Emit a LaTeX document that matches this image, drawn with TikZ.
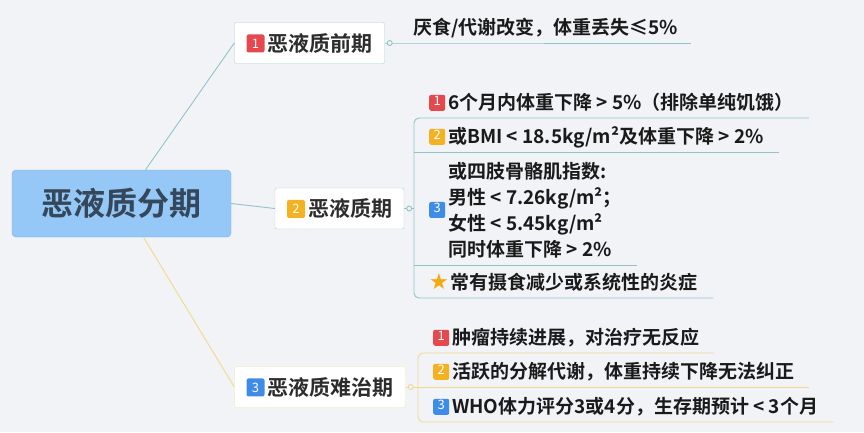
\documentclass[tikz,border=0pt]{standalone}
\usepackage{fontspec}
\setmainfont{Noto Sans CJK SC}[BoldFont={Noto Sans CJK SC Bold}]
\newfontfamily\symfont{DejaVu Sans}
\usetikzlibrary{positioning}

\definecolor{bg}{HTML}{F2F3F7}
\definecolor{rootfill}{HTML}{96C8F7}
\definecolor{rootedge}{HTML}{7DB0DE}
\definecolor{roottext}{HTML}{34475B}
\definecolor{tealline}{HTML}{8EC4CA}
\definecolor{tealedge}{HTML}{A6D2D6}
\definecolor{yellowline}{HTML}{F1D98C}
\definecolor{yellowedge}{HTML}{F4E4A8}
\definecolor{stagetext}{HTML}{2C2C2C}
\definecolor{leaftext}{HTML}{1A1A1A}
\definecolor{badgered}{HTML}{E5484D}
\definecolor{badgeorange}{HTML}{F4B223}
\definecolor{badgeblue}{HTML}{3F8CE8}
\definecolor{staryellow}{HTML}{F5A80F}

\newcommand{\numbadge}[3][16]{%
  \tikz[baseline={([yshift=-0.42*#1 pt]nb.center)}]
    \node[badgebox, minimum size=#1pt, fill=#2] (nb) {#3};\hspace{3pt}}

\tikzset{
  rootbox/.style={draw=rootedge, fill=rootfill, rounded corners=4pt,
    minimum width=219pt, minimum height=67pt, text=roottext,
    font=\fontsize{32}{36}\selectfont\bfseries},
  stagebox/.style={draw=#1, fill=white, rounded corners=2pt,
    minimum height=41pt, inner xsep=12pt, text=stagetext,
    font=\fontsize{21}{24}\selectfont\bfseries},
  leaf/.style={anchor=south west, inner xsep=15pt, inner ysep=0.5pt,
    text=leaftext, font=\fontsize{19}{26}\selectfont\bfseries,
    execute at begin node=\strut},
  badgebox/.style={anchor=center, draw=none, rounded corners=2pt,
    inner sep=0pt, text=white,
    font=\fontsize{13}{13}\selectfont\mdseries, execute at begin node={}},
  teal/.style={draw=tealline, line width=0.9pt},
  gold/.style={draw=yellowline, line width=0.9pt}
}

\begin{document}
\begin{tikzpicture}[x=1pt, y=-1pt]
  \fill[bg] (0,0) rectangle (864,432);

  % main topic and stages
  \node[rootbox] (root) at (121.5,203.5) {恶液质分期};
  \node[stagebox=tealedge] (pre) at (309.5,43) {\numbadge[18]{badgered}{1}恶液质前期};
  \node[stagebox=tealedge] (cach) at (339.5,208.5) {\numbadge[18]{badgeorange}{2}恶液质期};
  \node[stagebox=yellowedge] (refr) at (320,387) {\numbadge[18]{badgeblue}{3}恶液质难治期};

  \draw[teal] ([xshift=24pt]root.north) -- (pre.west);
  \draw[teal] (root.east) -- (cach.west);
  \draw[gold] ([xshift=22pt]root.south) -- (refr.west);

  % stage 1
  \node[leaf, inner xsep=13pt] (pre1) at (400,43) {厌食/代谢改变，体重丢失≤5\%};
  \draw[teal] (pre.east) -- (pre1.south west) -- (pre1.south east);
  \draw[teal, fill=bg] ([xshift=5pt]pre.east) circle (2.5pt);

  % stage 2
  \node[leaf] (cach1) at (414,118) {\numbadge{badgered}{1}6个月内体重下降 > 5\%（排除单纯饥饿）};
  \node[leaf] (cach2) at (414,152) {\numbadge{badgeorange}{2}或BMI < 18.5kg/m²及体重下降 >  2\%};
  \node[leaf] (cach3) at (414,265) {\numbadge{badgeblue}{3}\begin{tabular}[c]{@{}l@{}}
    或四肢骨骼肌指数:\\ 男性 <  7.26kg/m²；\\ 女性  <  5.45kg/m²\\ 同时体重下降 >  2\%\end{tabular}};
  \node[leaf] (cach4) at (414,298) {{\symfont\fontsize{22}{26}\selectfont\textcolor{staryellow}{★}}\hspace{2pt}常有摄食减少或系统性的炎症};
  \draw[teal, rounded corners=5pt] (cach1.south east) -- (cach1.south west)
    -- (cach4.south west) -- (cach4.south east);
  \draw[teal] (cach2.south west) -- (cach2.south east);
  \draw[teal] (cach3.south west) -- (cach3.south east);
  \draw[teal] (cach.east) -- (cach.east -| cach1.south west);
  \draw[teal, fill=bg] ([xshift=5pt]cach.east) circle (2.5pt);

  % stage 3
  \node[leaf] (refr1) at (418,353) {\numbadge{badgered}{1}肿瘤持续进展，对治疗无反应};
  \node[leaf] (refr2) at (418,387) {\numbadge{badgeorange}{2}活跃的分解代谢，体重持续下降无法纠正};
  \node[leaf] (refr3) at (418,422) {\numbadge{badgeblue}{3}WHO体力评分3或4分，生存期预计 < 3个月};
  \draw[gold, rounded corners=5pt] (refr1.south east) -- (refr1.south west)
    -- (refr3.south west) -- (refr3.south east);
  \draw[gold] (refr2.south west) -- (refr2.south east);
  \draw[gold] (refr.east) -- (refr.east -| refr1.south west);
  \draw[gold, fill=bg] ([xshift=5pt]refr.east) circle (2.5pt);
\end{tikzpicture}
\end{document}
